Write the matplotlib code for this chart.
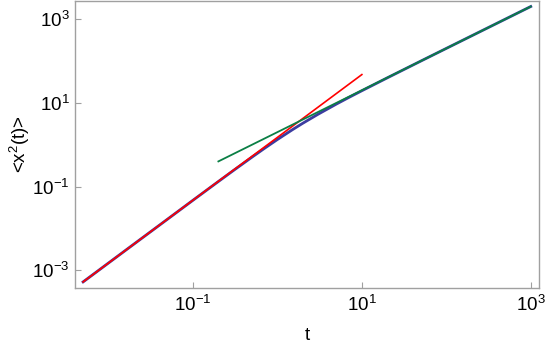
import matplotlib.pyplot as plt
from matplotlib.ticker import LogFormatterSciNotation, NullLocator

plt.rcParams['font.family'] = ['Liberation Sans', 'DejaVu Sans']
plt.rcParams['mathtext.fontset'] = 'custom'
plt.rcParams['mathtext.rm'] = 'Liberation Sans'
plt.rcParams['mathtext.it'] = 'Liberation Sans:italic'

# mean squared displacement
t_msd = [0.005, 0.01, 0.02, 0.05, 0.1, 0.2, 0.3, 0.5, 0.7, 1, 1.5, 2, 3, 5, 7,
         10, 20, 50, 100, 200, 500, 1000]
msd = [5.3e-4, 1.5e-3, 4.24e-3, 0.0167, 0.0472, 0.1325, 0.241, 0.506, 0.816,
       1.334, 2.275, 3.265, 5.29, 9.38, 13.45, 19.5, 39.6, 99.8, 199.9, 400,
       1000, 2000]

# short-time asymptote (slope 3/2)
t_short = [0.005, 10]
msd_short = [5.3e-4, 47.4]

# long-time asymptote (slope 1)
t_long = [0.2, 1000]
msd_long = [0.4, 2000]

fig = plt.figure(figsize=(5.45, 3.46), dpi=100)
ax = fig.add_axes([0.1376, 0.169, 0.851, 0.829])

ax.plot(t_msd, msd, color='#3c3ca0', lw=2.0)
ax.plot(t_short, msd_short, color='#ff0000', lw=1.2)
ax.plot(t_long, msd_long, color='#0b7f45', lw=1.3)

ax.set_xscale('log')
ax.set_yscale('log')
ax.set_xlim(10**-2.397, 10**3.095)
ax.set_ylim(10**-3.41, 10**3.44)

ax.set_xticks([1e-1, 1e1, 1e3])
ax.set_yticks([1e-3, 1e-1, 1e1, 1e3])
ax.xaxis.set_minor_locator(NullLocator())
ax.yaxis.set_minor_locator(NullLocator())
ax.xaxis.set_major_formatter(LogFormatterSciNotation())
ax.yaxis.set_major_formatter(LogFormatterSciNotation())

for s in ax.spines.values():
    s.set_color('#a0a0a0')
    s.set_linewidth(1.0)
ax.tick_params(direction='in', length=4, width=0.8, color='#a0a0a0',
               labelsize=13.5, labelcolor='black')
ax.tick_params(axis='x', pad=5)
ax.tick_params(axis='y', pad=4)

ax.set_xlabel('t', fontsize=13.5, labelpad=9)
ax.set_ylabel(r'<$\mathregular{x^2}$(t)>', fontsize=13.5, labelpad=0)

fig.savefig('out.png', dpi=100)
